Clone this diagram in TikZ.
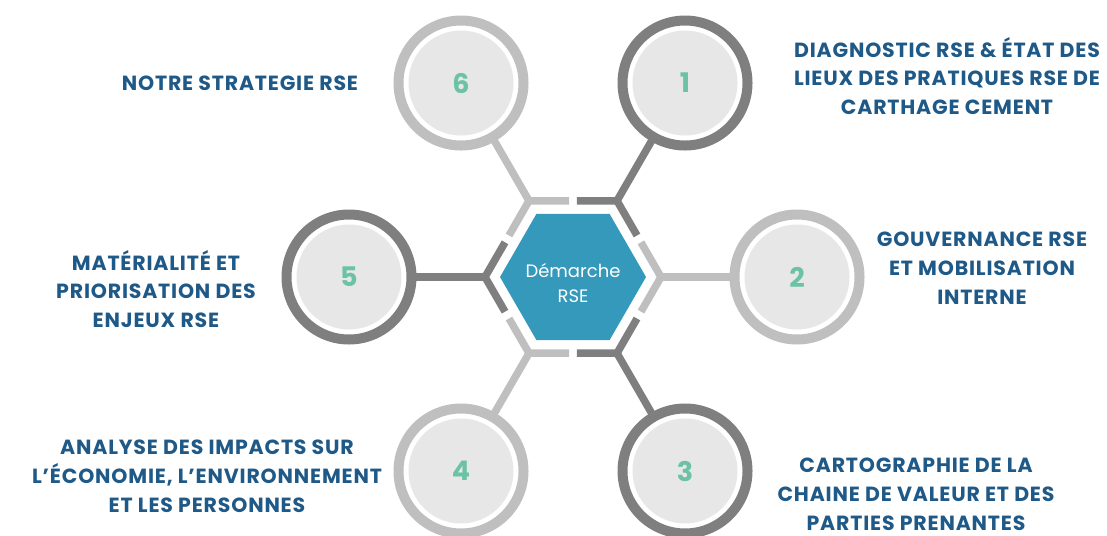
\documentclass[tikz,border=0pt]{standalone}
\usepackage{fontspec}
\setmainfont{Poppins}
\usepackage{tikz}
\usetikzlibrary{shapes.geometric,calc}

\definecolor{dk}{RGB}{127,127,127}
\definecolor{lt}{RGB}{191,191,191}
\definecolor{diskgray}{RGB}{231,231,231}
\definecolor{rseblue}{RGB}{52,153,186}
\definecolor{numgreen}{RGB}{108,194,165}
\definecolor{lblblue}{RGB}{31,89,135}

\tikzset{
  ring/.style={circle,draw=#1,line width=10pt,fill=white,minimum size=125pt,inner sep=0pt},
  disk/.style={circle,fill=diskgray,minimum size=105pt,inner sep=0pt,text=numgreen,
    font=\bfseries\fontsize{27}{30}\selectfont},
  arm/.style={draw=#1,line width=7.5pt,line join=miter},
  lbl/.style={text=lblblue,align=center,
    font=\fontsize{20.5}{28.8}\selectfont\bfseries\addfontfeature{LetterSpace=4}}
}

\begin{document}
\begin{tikzpicture}[x=1pt,y=-1pt]
    \useasboundingbox (0,0) rectangle (1107,535);
    \clip (0,0) rectangle (1107,535);

    \begin{scope}[shift={(573,277)}]
    \node[regular polygon,regular polygon sides=6,minimum size=146pt,inner sep=0pt,
      fill=rseblue] (rse) at (0,0) {};
    \node[text=white,align=center,font=\fontsize{18}{25}\selectfont] (rsetxt) at (0,6) {Démarche\\RSE};

    \coordinate (v1) at (-60:88);
    \coordinate (v2) at (0:88);
    \coordinate (v3) at (60:88);
    \coordinate (v4) at (120:88);
    \coordinate (v5) at (180:88);
    \coordinate (v6) at (240:88);

    \coordinate (m12) at (-30:76.2);
    \coordinate (m23) at (30:76.2);
    \coordinate (m34) at (90:76.2);
    \coordinate (m45) at (150:76.2);
    \coordinate (m56) at (210:76.2);
    \coordinate (m61) at (270:76.2);

    \node[ring=dk] (c1) at (-60:224) {};
    \node[ring=lt] (c2) at (0:224) {};
    \node[ring=dk] (c3) at (60:224) {};
    \node[ring=lt] (c4) at (120:224) {};
    \node[ring=dk] (c5) at (180:224) {};
    \node[ring=lt] (c6) at (240:224) {};

    \node[disk] (d1) at (c1) {1};
    \node[disk] (d2) at (c2) {2};
    \node[disk] (d3) at (c3) {3};
    \node[disk] (d4) at (c4) {4};
    \node[disk] (d5) at (c5) {5};
    \node[disk] (d6) at (c6) {6};

    \draw[arm=dk,shorten >=-2pt] (v1) -- (c1);
    \draw[arm=lt,shorten >=-2pt] (v2) -- (c2);
    \draw[arm=dk,shorten >=-2pt] (v3) -- (c3);
    \draw[arm=lt,shorten >=-2pt] (v4) -- (c4);
    \draw[arm=dk,shorten >=-2pt] (v5) -- (c5);
    \draw[arm=lt,shorten >=-2pt] (v6) -- (c6);

    \draw[arm=dk] ($(v1)!.91!(m61)$) -- (v1) -- ($(v1)!.91!(m12)$);
    \draw[arm=lt] ($(v2)!.91!(m12)$) -- (v2) -- ($(v2)!.91!(m23)$);
    \draw[arm=dk] ($(v3)!.91!(m23)$) -- (v3) -- ($(v3)!.91!(m34)$);
    \draw[arm=lt] ($(v4)!.91!(m34)$) -- (v4) -- ($(v4)!.91!(m45)$);
    \draw[arm=dk] ($(v5)!.91!(m45)$) -- (v5) -- ($(v5)!.91!(m56)$);
    \draw[arm=lt] ($(v6)!.91!(m56)$) -- (v6) -- ($(v6)!.91!(m61)$);
    \end{scope}

    \node[lbl] (t6) at (240,83) {NOTRE STRATEGIE RSE};
    \node[lbl] (t1) at (947,76) {DIAGNOSTIC RSE \& ÉTAT DES\\LIEUX DES PRATIQUES RSE DE\\CARTHAGE CEMENT};
    \node[lbl] (t2) at (982,268) {GOUVERNANCE RSE\\ET MOBILISATION\\INTERNE};
    \node[lbl] (t3) at (916,494) {CARTOGRAPHIE DE LA\\CHAINE DE VALEUR ET DES\\PARTIES PRENANTES};
    \node[lbl] (t4) at (207,476) {ANALYSE DES IMPACTS SUR\\L’ÉCONOMIE, L’ENVIRONNEMENT\\ET LES PERSONNES};
    \node[lbl] (t5) at (156,289) {MATÉRIALITÉ ET\\PRIORISATION DES\\ENJEUX RSE};
\end{tikzpicture}
\end{document}
